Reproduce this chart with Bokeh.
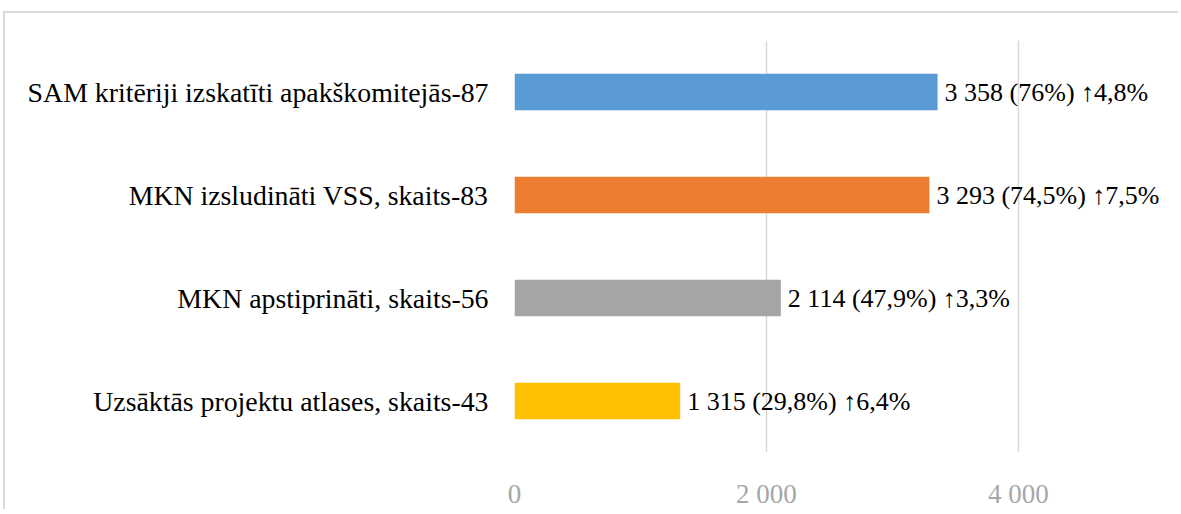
from bokeh.plotting import figure
from bokeh.models import ColumnDataSource, FactorRange, FixedTicker, LabelSet, Range1d
from bokeh.embed import file_html
from bokeh.resources import INLINE

categories = [
    "SAM kritēriji izskatīti apakškomitejās-87",
    "MKN izsludināti VSS, skaits-83",
    "MKN apstiprināti, skaits-56",
    "Uzsāktās projektu atlases, skaits-43",
]
values = [3358, 3293, 2114, 1315]
value_labels = [
    "3 358 (76%) ↑4,8%",
    "3 293 (74,5%) ↑7,5%",
    "2 114 (47,9%) ↑3,3%",
    "1 315 (29,8%) ↑6,4%",
]
colors = ["#5B9BD5", "#ED7D31", "#A5A5A5", "#FFC000"]
tick_values = [0, 2000, 4000]
tick_labels = ["0", "2 000", "4 000"]

FONT = "Liberation Serif"

source = ColumnDataSource(dict(cat=categories, val=values, lab=value_labels, col=colors))

p = figure(
    width=1175, height=498,
    y_range=FactorRange(factors=list(reversed(categories))),
    x_range=Range1d(0, 5286),
    output_backend="svg", toolbar_location=None,
    min_border_left=509, min_border_right=0, min_border_top=27, min_border_bottom=51,
)
p.styles = {"border-top": "2px solid #D9D9D9", "border-left": "2px solid #D9D9D9",
            "margin-left": "3px", "margin-top": "11px"}
p.outline_line_color = None
p.background_fill_color = "white"
p.border_fill_color = "white"

p.hbar(y="cat", right="val", left=0, height=0.355, color="col", line_color=None, source=source)

labels = LabelSet(x="val", y="cat", text="lab", source=source, x_offset=7,
                  text_baseline="middle", text_align="left",
                  text_font=FONT, text_font_size="26px", text_color="#000000")
p.add_layout(labels)

p.xaxis.ticker = FixedTicker(ticks=tick_values)
p.xaxis.major_label_overrides = {v: l for v, l in zip(tick_values, tick_labels)}
p.xaxis.axis_line_color = None
p.xaxis.major_tick_line_color = None
p.xaxis.minor_tick_line_color = None
p.xaxis.major_label_text_font = FONT
p.xaxis.major_label_text_font_size = "27px"
p.xaxis.major_label_text_color = "#A6A6A6"
p.xaxis.major_label_standoff = 20

p.yaxis.axis_line_color = None
p.yaxis.major_tick_line_color = None
p.yaxis.minor_tick_line_color = None
p.yaxis.major_label_text_font = FONT
p.yaxis.major_label_text_font_size = "27.8px"
p.yaxis.major_label_text_color = "#000000"
p.yaxis.major_label_standoff = 20

p.xgrid.grid_line_color = "#D9D9D9"
p.xgrid.grid_line_width = 1.5
p.ygrid.grid_line_color = None

open("out.html", "w").write(file_html(p, INLINE))
